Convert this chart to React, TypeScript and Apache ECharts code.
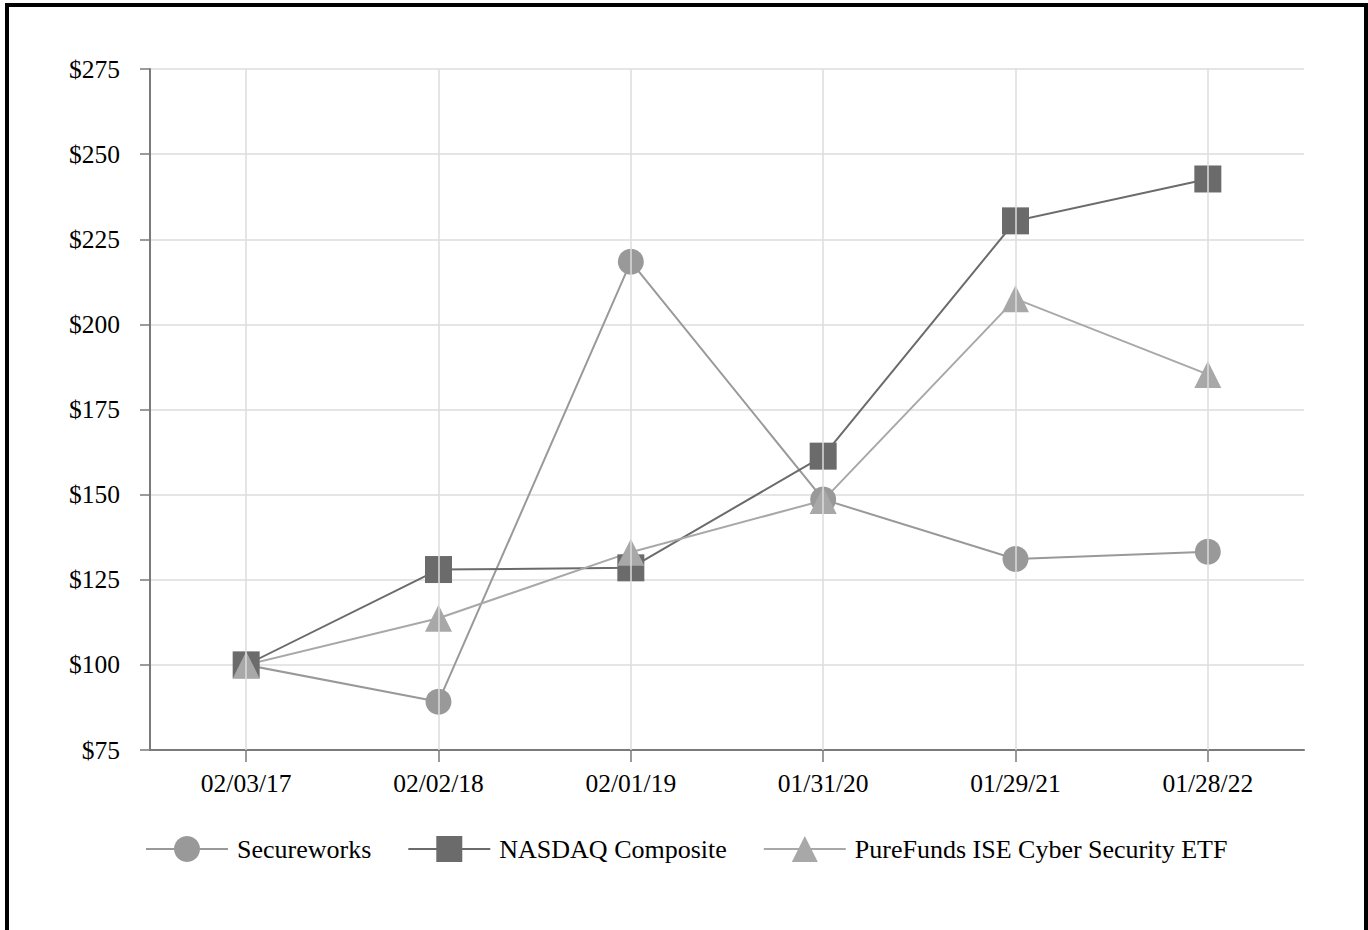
import React, { useEffect, useRef } from "react";
import * as echarts from "echarts";

const categories = ["02/03/17", "02/02/18", "02/01/19", "01/31/20", "01/29/21", "01/28/22"];
const secureworks = [100, 89.2, 218.4, 148.6, 131.1, 133.2];
const nasdaq = [100, 128.0, 128.5, 161.3, 230.4, 242.7];
const purefunds = [100, 113.7, 133.1, 148.3, 207.5, 185.3];
const seriesNames = ["Secureworks", "NASDAQ Composite", "PureFunds ISE Cyber Security ETF"];
const yTicks = { min: 75, max: 275, interval: 25 };

const FONT = "'Liberation Serif', 'Times New Roman', serif";

export default function App() {
  const ref = useRef<HTMLDivElement>(null);
  useEffect(() => {
    if (!ref.current) return;
    const chart = echarts.init(ref.current, undefined, { renderer: "svg" });
    const mk = (name: string, data: number[], symbol: string, color: string, lineColor: string, size: number) => ({
      name,
      type: "line",
      data,
      symbol,
      symbolSize: size,
      showSymbol: true,
      lineStyle: { color: lineColor, width: 2 },
      itemStyle: { color, borderWidth: 0 },
      emphasis: { disabled: true },
      z: 3,
    });
    chart.setOption({
      animation: false,
      backgroundColor: "#ffffff",
      textStyle: { fontFamily: FONT },
      grid: { left: 150, right: 64, top: 69, bottom: 180, containLabel: false },
      xAxis: {
        type: "category",
        data: categories,
        boundaryGap: true,
        axisLine: { show: true, lineStyle: { color: "#7a7a7a", width: 2 } },
        axisTick: { show: true, alignWithLabel: true, length: 12, lineStyle: { color: "#7a7a7a", width: 1.5 } },
        axisLabel: { color: "#000", fontFamily: FONT, fontSize: 25.5, margin: 20 },
        splitLine: { show: false },
      },
      yAxis: {
        type: "value",
        min: yTicks.min,
        max: yTicks.max,
        interval: yTicks.interval,
        axisLine: { show: true, lineStyle: { color: "#7a7a7a", width: 2 } },
        axisTick: { show: true, length: 10, lineStyle: { color: "#7a7a7a", width: 1.5 } },
        axisLabel: { color: "#000", fontFamily: FONT, fontSize: 25.5, margin: 30, formatter: (v: number) => "$" + v },
        splitLine: { show: true, lineStyle: { color: "#dcdcdc", width: 1.5 } },
      },
      legend: {
        data: seriesNames,
        left: 140,
        top: 831,
        itemWidth: 82,
        itemHeight: 32.5,
        itemGap: 36,
        textStyle: { fontFamily: FONT, fontSize: 26, color: "#000", padding: [0, 0, 0, 4] },
        selectedMode: false,
      },
      series: [
        {
          name: "vgrid",
          type: "line",
          data: [],
          z: 1,
          silent: true,
          markLine: {
            silent: true,
            symbol: ["none", "none"],
            label: { show: false },
            lineStyle: { color: "#dcdcdc", width: 1.5, type: "solid" },
            data: categories.map((c) => ({ xAxis: c })),
          },
        },
        mk(seriesNames[0], secureworks, "circle", "#999999", "#999999", 26),
        mk(seriesNames[1], nasdaq, "rect", "#6b6b6b", "#6b6b6b", 27),
        mk(seriesNames[2], purefunds, "triangle", "#a8a8a8", "#a8a8a8", 27),
      ],
    });
    return () => chart.dispose();
  }, []);
  return (
    <div style={{ position: "fixed", left: 0, top: 0, width: 1368, height: 930, overflow: "hidden", background: "#fff" }}>
      <div ref={ref} style={{ position: "absolute", left: 0, top: 0, width: 1368, height: 930 }} />
      <div
        style={{
          position: "absolute",
          left: 5,
          top: 3,
          width: 1368 + 20,
          height: 960,
          border: "4px solid #000",
          borderRight: "none",
          boxSizing: "border-box",
          pointerEvents: "none",
        }}
      />
      <div style={{ position: "absolute", left: 1364, top: 3, width: 4, height: 930, background: "#000", pointerEvents: "none" }} />
    </div>
  );
}
